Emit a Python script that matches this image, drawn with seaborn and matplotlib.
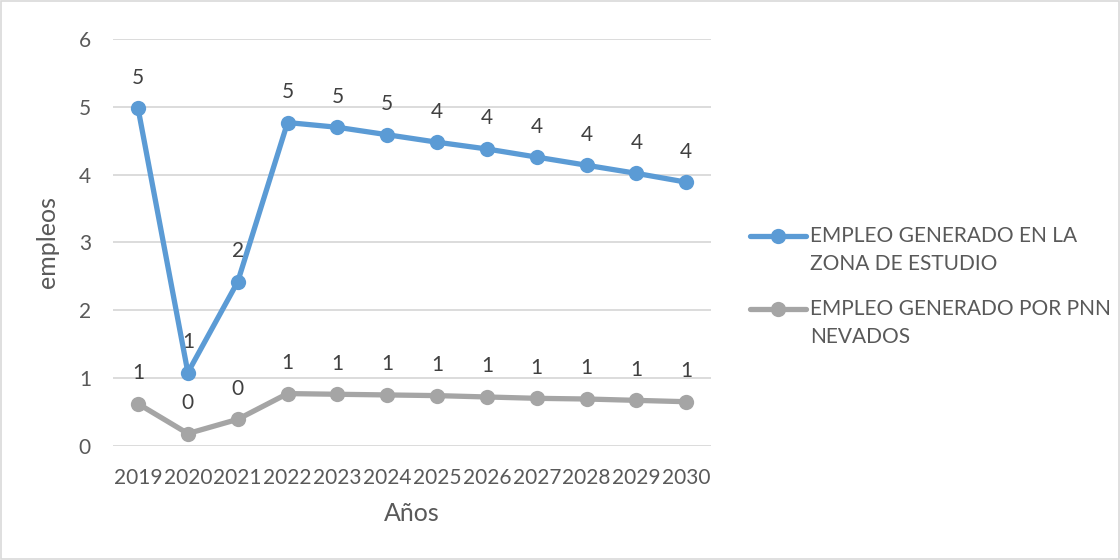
import matplotlib
matplotlib.use("Agg")
import matplotlib.pyplot as plt
import seaborn as sns
import pandas as pd
import textwrap

# Data
years = ["2019", "2020", "2021", "2022", "2023", "2024", "2025", "2026", "2027", "2028", "2029", "2030"]
zona_estudio = [4.98, 1.08, 2.42, 4.77, 4.70, 4.59, 4.48, 4.38, 4.26, 4.14, 4.02, 3.89]
pnn_nevados = [0.62, 0.18, 0.39, 0.77, 0.76, 0.75, 0.74, 0.72, 0.70, 0.69, 0.67, 0.65]
series_names = ["EMPLEO GENERADO EN LA ZONA DE ESTUDIO", "EMPLEO GENERADO POR PNN NEVADOS"]
colors = ["#5B9BD5", "#A5A5A5"]

df = pd.DataFrame({
    "Año": years * 2,
    "pos": list(range(len(years))) * 2,
    "empleos": zona_estudio + pnn_nevados,
    "serie": [series_names[0]] * len(years) + [series_names[1]] * len(years),
})

sns.set_style("white")
plt.rcParams["font.family"] = ["Lato", "DejaVu Sans"]

W, H = 1120, 560
fig = plt.figure(figsize=(11.2, 5.6), dpi=100)
ax = fig.add_axes([0.101, 0.204, 0.534, 0.726])

sns.lineplot(data=df, x="pos", y="empleos", hue="serie", palette=colors,
             marker="o", markersize=11, markeredgewidth=0, linewidth=3.8,
             ax=ax, legend=False)

# data labels
for vals in [zona_estudio, pnn_nevados]:
    for i, v in enumerate(vals):
        ax.annotate(f"{v:.0f}", (i, v), xytext=(0, 22), textcoords="offset points",
                    ha="center", va="center", fontsize=15, color="#404040")

ax.set_xlim(-0.5, len(years) - 0.5)
ax.set_ylim(0, 6)
ax.set_xticks(range(len(years)))
ax.set_xticklabels(years)
ax.set_yticks(range(0, 7))
ax.tick_params(axis="both", labelsize=15, colors="#595959", length=0)
ax.tick_params(axis="y", pad=16)
ax.tick_params(axis="x", pad=16)
ax.grid(axis="y", color="#D9D9D9", linewidth=1.3)
ax.set_axisbelow(True)
for s in ax.spines.values():
    s.set_visible(False)

ax.set_xlabel("Años", fontsize=18, color="#595959", labelpad=10)
ax.set_ylabel("empleos", fontsize=18, color="#595959", labelpad=14)

# legend, drawn by hand so the marker sits on the first text line
legend_y = [236, 309]
for name, c, y in zip(series_names, colors, legend_y):
    fy = 1 - y / H
    fig.add_artist(plt.Line2D([750 / W, 806 / W], [fy, fy], transform=fig.transFigure,
                              color=c, linewidth=3.8, solid_capstyle="round"))
    fig.add_artist(plt.Line2D([778 / W], [fy], transform=fig.transFigure, color=c,
                              marker="o", markersize=11, markeredgewidth=0))
    fig.text(810 / W, fy + 10 / H, textwrap.fill(name, 23), fontsize=15,
             color="#595959", va="top", ha="left", linespacing=1.5)

# chart border
fig.patches.append(plt.Rectangle((0.001, 0.001), 0.998, 0.997, transform=fig.transFigure,
                                 fill=False, edgecolor="#D9D9D9", linewidth=1.2))

fig.savefig("out.png", dpi=100)
